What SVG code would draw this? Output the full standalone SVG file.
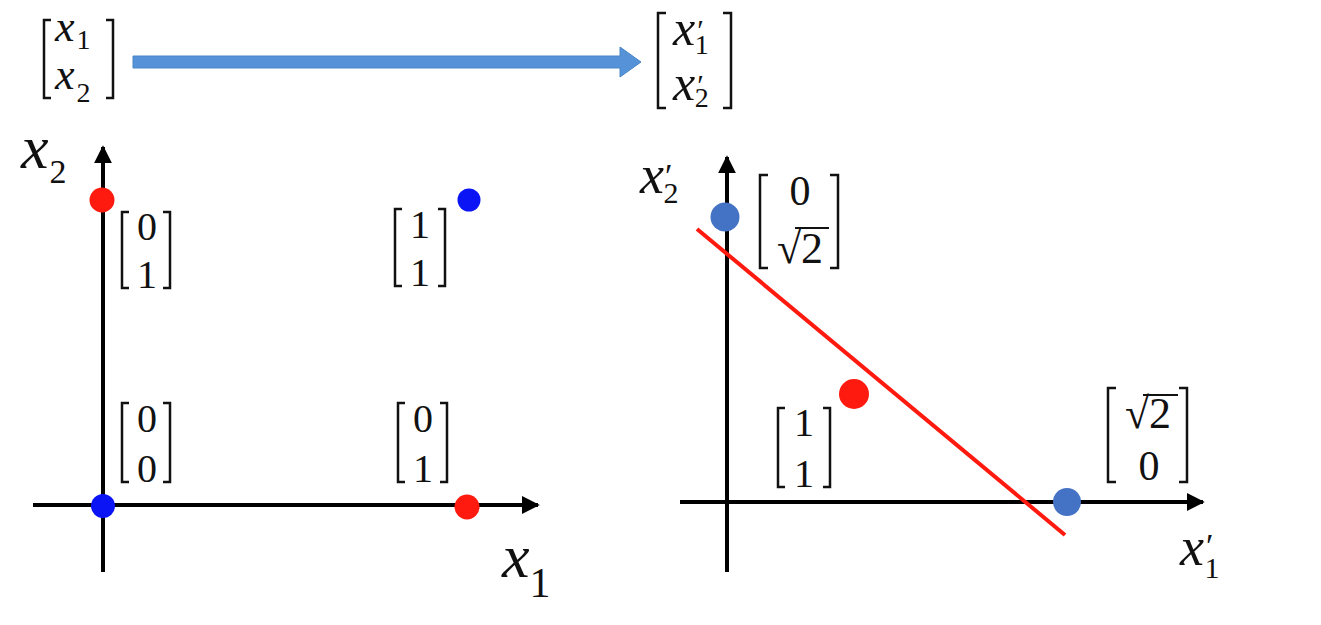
<svg xmlns="http://www.w3.org/2000/svg" width="1321" height="625" viewBox="0 0 1321 625">
<defs>
<style>
.var{font-family:"Liberation Serif","Times New Roman",serif;font-style:italic;fill:#111}
.sub{font-family:"Liberation Serif","Times New Roman",serif;font-style:normal;fill:#111}
.num{font-family:"Liberation Serif","Times New Roman",serif;fill:#111}
.br{fill:none;stroke:#111;stroke-width:2.5}
.axis{stroke:#000;stroke-width:4;fill:none}
</style>
<marker id="ah" viewBox="0 0 10 10" refX="9" refY="5" markerWidth="4.5" markerHeight="4.5" orient="auto" markerUnits="strokeWidth">
<path d="M0,0 L10,5 L0,10 Z" fill="#000"/>
</marker>
</defs>
<rect width="1321" height="625" fill="#fff"/>

<g id="connectors">
<path id="map-arrow" d="M133,56 H620 V47 L641,62 L620,77 V68 H133 Z" fill="#5592D8" stroke="#4A86C5" stroke-width="1"/>
<line class="axis" x1="103" y1="572" x2="103" y2="147" marker-end="url(#ah)"/>
<line class="axis" x1="33" y1="505" x2="538" y2="505" marker-end="url(#ah)"/>
<line class="axis" x1="727" y1="572" x2="727" y2="157" marker-end="url(#ah)"/>
<line class="axis" x1="680" y1="502" x2="1203" y2="502" marker-end="url(#ah)"/>
<line id="sep-line" x1="697" y1="229" x2="1065" y2="535" stroke="#FF1A0F" stroke-width="4"/>
</g>

<g id="input-vector">
<path class="br" d="M51,20 H44 V98 H51 M106,20 H113 V98 H106"/>
<text class="var" x="55" y="41" font-size="44">x<tspan class="sub" font-size="28" dx="2" dy="8">1</tspan></text>
<text class="var" x="55" y="89" font-size="44">x<tspan class="sub" font-size="28" dx="2" dy="13">2</tspan></text>
</g>

<g id="output-vector">
<path class="br" d="M666,13 H658 V108 H666 M723,13 H731 V108 H723"/>
<text class="var" x="673" y="45" font-size="50">x<tspan class="sub" font-size="30" dx="2" dy="-5">′</tspan><tspan class="sub" font-size="28" dx="-9" dy="14">1</tspan></text>
<text class="var" x="673" y="100" font-size="50">x<tspan class="sub" font-size="30" dx="2" dy="-5">′</tspan><tspan class="sub" font-size="28" dx="-9" dy="12">2</tspan></text>
</g>

<g id="left-axis-labels">
<text class="var" x="21" y="168" font-size="62">x<tspan class="sub" font-size="34" dx="1" dy="15">2</tspan></text>
<text class="var" x="502" y="577" font-size="62">x<tspan class="sub" font-size="42" dx="0" dy="20">1</tspan></text>
</g>

<g id="pt-01">
<circle cx="102" cy="200" r="12.5" fill="#FF1A0F"/>
<path class="br" d="M129,212 H122 V288 H129 M163,212 H170 V288 H163"/>
<text class="num" x="147" y="240" font-size="40" text-anchor="middle">0</text>
<text class="num" x="147" y="288" font-size="40" text-anchor="middle">1</text>
</g>

<g id="pt-11">
<circle cx="469" cy="200" r="11.5" fill="#0A14F5"/>
<path class="br" d="M402,209 H395 V286 H402 M438,209 H445 V286 H438"/>
<text class="num" x="420" y="238" font-size="40" text-anchor="middle">1</text>
<text class="num" x="420" y="286" font-size="40" text-anchor="middle">1</text>
</g>

<g id="pt-00">
<circle cx="103" cy="506" r="12" fill="#0A14F5"/>
<path class="br" d="M129,403 H122 V482 H129 M163,403 H170 V482 H163"/>
<text class="num" x="147" y="432" font-size="40" text-anchor="middle">0</text>
<text class="num" x="147" y="482" font-size="40" text-anchor="middle">0</text>
</g>

<g id="pt-10">
<circle cx="467" cy="507" r="12.5" fill="#FF1A0F"/>
<path class="br" d="M405,403 H398 V482 H405 M440,403 H447 V482 H440"/>
<text class="num" x="423" y="432" font-size="40" text-anchor="middle">0</text>
<text class="num" x="423" y="482" font-size="40" text-anchor="middle">1</text>
</g>

<g id="right-axis-labels">
<text class="var" x="640" y="193" font-size="54">x<tspan class="sub" font-size="34" dx="1" dy="-6">′</tspan><tspan class="sub" font-size="30" dx="-9" dy="16">2</tspan></text>
<text class="var" x="1180" y="565" font-size="54">x<tspan class="sub" font-size="34" dx="2" dy="-8">′</tspan><tspan class="sub" font-size="30" dx="-9" dy="21">1</tspan></text>
</g>

<g id="tpt-0r2">
<circle cx="725" cy="217" r="14.5" fill="#4472C4"/>
<path class="br" d="M768,175 H760 V268 H768 M830,175 H838 V268 H830"/>
<text class="num" x="800" y="205" font-size="42" text-anchor="middle">0</text>
<text class="num" x="800" y="263" font-size="44" text-anchor="middle">√2</text>
<line x1="795" y1="228" x2="829" y2="228" stroke="#111" stroke-width="2"/>
</g>

<g id="tpt-11">
<circle cx="854" cy="394" r="15" fill="#FF1A0F"/>
<path class="br" d="M785,408 H778 V487 H785 M823,408 H830 V487 H823"/>
<text class="num" x="804" y="436" font-size="40" text-anchor="middle">1</text>
<text class="num" x="804" y="487" font-size="40" text-anchor="middle">1</text>
</g>

<g id="tpt-r20">
<circle cx="1067" cy="502" r="14" fill="#4472C4"/>
<path class="br" d="M1116,388 H1108 V482 H1116 M1179,388 H1187 V482 H1179"/>
<text class="num" x="1148" y="428" font-size="44" text-anchor="middle">√2</text>
<line x1="1143" y1="395" x2="1178" y2="395" stroke="#111" stroke-width="2"/>
<text class="num" x="1149" y="480" font-size="42" text-anchor="middle">0</text>
</g>
</svg>
